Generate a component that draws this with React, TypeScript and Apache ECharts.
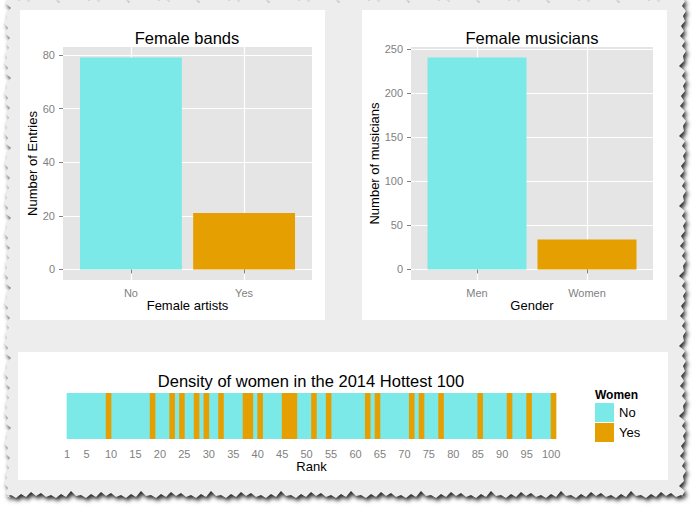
import React, { useEffect, useRef } from 'react';
import * as echarts from 'echarts';

// Female bands panel
const bandCategories = ['No', 'Yes'];
const bandCounts = [79, 21];
const bandTicks = [0, 20, 40, 60, 80];

// Female musicians panel
const genderCategories = ['Men', 'Women'];
const genderCounts = [240, 34];
const musicianTicks = [0, 50, 100, 150, 200, 250];

// Hottest 100 strip: ranks with at least one woman
const rankTicks = [1, 5, 10, 15, 20, 25, 30, 35, 40, 45, 50, 55, 60, 65, 70, 75, 80, 85, 90, 95, 100];
const womenRanks = [9, 18, 22, 24, 27, 29, 32, 37, 38, 40, 45, 46, 47, 51, 54, 62, 64, 71, 73, 77, 85, 91, 95, 100];
const rankCount = 100;

const CYAN = '#7AE9E8';
const ORANGE = '#E69F00';
const PANEL = '#E5E5E5';
const GREY = '#7F7F7F';
const FONT = '"Liberation Sans", Arial, Helvetica, sans-serif';

const ranks = Array.from({ length: rankCount }, (_, i) => i + 1);
// each rank is a unit-wide bin [r, r + 1]
const noData = ranks.filter((r) => !womenRanks.includes(r)).map((r) => [r + 0.5, 1]);
const yesData = womenRanks.map((r) => [r + 0.5, 1]);

const axisTitle = { color: '#000', fontSize: 13, fontFamily: FONT };
const tickLabel = { color: GREY, fontSize: 11, fontFamily: FONT };

const catXAxis = (gridIndex: number, cats: string[], name: string) => ({
  type: 'value',
  gridIndex,
  min: 0.4,
  max: 2.6,
  axisLine: { show: false },
  axisTick: { show: true, customValues: [1, 2], length: 4, lineStyle: { color: GREY } },
  axisLabel: {
    ...tickLabel,
    customValues: [1, 2],
    margin: 7,
    formatter: (v: number) => cats[Math.round(v) - 1] ?? '',
  },
  splitLine: { show: true, lineStyle: { color: '#FFFFFF', width: 1.2 } },
  name,
  nameLocation: 'middle',
  nameGap: 18,
  nameTextStyle: axisTitle,
});

const countYAxis = (gridIndex: number, ticks: number[], min: number, max: number, name: string, gap: number) => ({
  type: 'value',
  gridIndex,
  min,
  max,
  axisLine: { show: false },
  axisTick: { show: true, customValues: ticks, length: 4, lineStyle: { color: GREY } },
  axisLabel: { ...tickLabel, customValues: ticks, margin: 8 },
  splitLine: { show: true, lineStyle: { color: '#FFFFFF', width: 1.2 } },
  name,
  nameLocation: 'middle',
  nameGap: gap,
  nameTextStyle: axisTitle,
});

const titleText = (x: number, y: number, text: string, size = 16.5) => ({
  type: 'text',
  x,
  y,
  style: { text, fill: '#000', font: `${size}px ${FONT}`, textAlign: 'center', textVerticalAlign: 'middle' },
});

// torn paper outline for the screenshot frame (fixed zigzag pattern)
const jag = [0, 3, 1, 5, 2, 6, 1, 4, 0, 3, 2, 7, 1, 4];
const tornEdge = (w: number, h: number, step = 5) => {
  const pts: string[] = [];
  let k = 0;
  for (let x = 0; x < w; x += step) pts.push(`${x}px ${jag[k++ % jag.length]}px`);
  for (let y = 0; y < h; y += step) pts.push(`${w - jag[k++ % jag.length]}px ${y}px`);
  for (let x = w; x > 0; x -= step) pts.push(`${x}px ${h - jag[k++ % jag.length]}px`);
  for (let y = h; y > 0; y -= step) pts.push(`${jag[k++ % jag.length]}px ${y}px`);
  return `polygon(${pts.join(', ')})`;
};

const App: React.FC = () => {
  const chartRef = useRef<HTMLDivElement | null>(null);

  useEffect(() => {
    if (!chartRef.current) return;
    const chart = echarts.init(chartRef.current, null, { renderer: 'svg' });

    const option: any = {
      animation: false,
      grid: [
        { left: 63, top: 47, width: 249, height: 233, show: true, backgroundColor: PANEL, borderWidth: 0, outerBoundsMode: 'none' },
        { left: 411, top: 47, width: 242, height: 233, show: true, backgroundColor: PANEL, borderWidth: 0, outerBoundsMode: 'none' },
        { left: 67, top: 393, width: 489, height: 46, outerBoundsMode: 'none' },
      ],
      xAxis: [
        catXAxis(0, bandCategories, 'Female artists'),
        catXAxis(1, genderCategories, 'Gender'),
        {
          type: 'value',
          gridIndex: 2,
          min: 1,
          max: rankCount + 1,
          axisLine: { show: false },
          axisTick: { show: false, customValues: rankTicks },
          axisLabel: { ...tickLabel, customValues: rankTicks, margin: 9 },
          splitLine: { show: false },
          name: 'Rank',
          nameLocation: 'middle',
          nameGap: 21,
          nameTextStyle: axisTitle,
        },
      ],
      yAxis: [
        countYAxis(0, bandTicks, -3.95, 82.95, 'Number of Entries', 21),
        countYAxis(1, musicianTicks, -12, 252, 'Number of musicians', 20),
        { type: 'value', gridIndex: 2, min: 0, max: 1, show: false },
      ],
      legend: {
        data: ['No', 'Yes'],
        orient: 'vertical',
        left: 590,
        top: 398,
        itemWidth: 19,
        itemHeight: 19,
        itemGap: 1,
        icon: 'rect',
        selectedMode: false,
        textStyle: { color: '#000', fontSize: 13, fontFamily: FONT },
      },
      graphic: [
        titleText(187, 38, 'Female bands'),
        titleText(532, 38, 'Female musicians'),
        titleText(311, 381, 'Density of women in the 2014 Hottest 100'),
        {
          type: 'text',
          x: 595,
          y: 395,
          style: { text: 'Women', fill: '#000', font: `bold 12px ${FONT}`, textAlign: 'left', textVerticalAlign: 'middle' },
        },
      ],
      series: [
        {
          type: 'bar',
          xAxisIndex: 0,
          yAxisIndex: 0,
          barWidth: '90%',
          data: bandCounts.map((v, i) => ({ value: [i + 1, v], itemStyle: { color: i === 0 ? CYAN : ORANGE } })),
        },
        {
          type: 'bar',
          xAxisIndex: 1,
          yAxisIndex: 1,
          barWidth: '90%',
          data: genderCounts.map((v, i) => ({ value: [i + 1, v], itemStyle: { color: i === 0 ? CYAN : ORANGE } })),
        },
        {
          name: 'No',
          type: 'bar',
          xAxisIndex: 2,
          yAxisIndex: 2,
          barWidth: 5.6,
          barGap: '-100%',
          itemStyle: { color: CYAN },
          data: noData,
        },
        {
          name: 'Yes',
          type: 'bar',
          xAxisIndex: 2,
          yAxisIndex: 2,
          barWidth: 5.6,
          barGap: '-100%',
          itemStyle: { color: ORANGE },
          data: yesData,
        },
      ],
    };

    chart.setOption(option);
    return () => {
      chart.dispose();
    };
  }, []);

  return (
    <div style={{ position: 'fixed', left: 0, top: 0, width: 700, height: 512, background: '#FFFFFF', overflow: 'hidden' }}>
      <div style={{ position: 'absolute', left: 4, top: -4, width: 682, height: 502, filter: 'drop-shadow(2px 3px 2px rgba(0,0,0,0.85))' }}>
        <div style={{ width: 682, height: 502, background: '#EDEDED', clipPath: tornEdge(682, 502) }} />
      </div>
      <div style={{ position: 'absolute', left: 20, top: 10, width: 305, height: 310, background: '#FFFFFF' }} />
      <div style={{ position: 'absolute', left: 362, top: 10, width: 305, height: 310, background: '#FFFFFF' }} />
      <div style={{ position: 'absolute', left: 18, top: 352, width: 650, height: 128, background: '#FFFFFF' }} />
      <div ref={chartRef} style={{ position: 'absolute', left: 0, top: 0, width: 700, height: 512 }} />
    </div>
  );
};

export default App;
